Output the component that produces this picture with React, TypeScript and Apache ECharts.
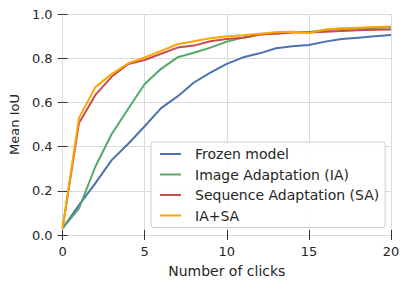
import React, { useEffect, useRef } from "react";
import * as echarts from "echarts";

const clicks = [0, 1, 2, 3, 4, 5, 6, 7, 8, 9, 10, 11, 12, 13, 14, 15, 16, 17, 18, 19, 20];
const frozen = [0.03, 0.135, 0.235, 0.34, 0.413, 0.492, 0.574, 0.627, 0.69, 0.735, 0.774, 0.804, 0.822, 0.845, 0.854, 0.86, 0.875, 0.887, 0.893, 0.899, 0.905];
const imageAdapt = [0.03, 0.12, 0.31, 0.458, 0.571, 0.683, 0.752, 0.804, 0.825, 0.848, 0.875, 0.893, 0.907, 0.916, 0.919, 0.919, 0.928, 0.932, 0.934, 0.937, 0.94];
const seqAdapt = [0.03, 0.507, 0.634, 0.717, 0.774, 0.792, 0.82, 0.848, 0.857, 0.877, 0.887, 0.893, 0.907, 0.911, 0.916, 0.916, 0.92, 0.923, 0.926, 0.929, 0.93];
const iaSa = [0.03, 0.53, 0.669, 0.729, 0.777, 0.803, 0.833, 0.863, 0.877, 0.89, 0.899, 0.904, 0.911, 0.917, 0.92, 0.914, 0.93, 0.936, 0.938, 0.941, 0.944];

const seriesNames = ["Frozen model", "Image Adaptation (IA)", "Sequence Adaptation (SA)", "IA+SA"];
const seriesColors = ["#4C72B0", "#55A868", "#C44E52", "#FFA500"];
const seriesValues = [frozen, imageAdapt, seqAdapt, iaSa];

const FONT = "DejaVu Sans";
const TEXT = "#262626";
const GRID = "#dadada";

export default function App() {
  const ref = useRef<HTMLDivElement>(null);
  useEffect(() => {
    const chart = echarts.init(ref.current!, null, { renderer: "svg" });
    const tickStyle = { show: true, length: 5, lineStyle: { color: "#333333", width: 1 } };
    const axisLine = { show: true, lineStyle: { color: GRID, width: 1 } };
    chart.setOption({
      animation: false,
      backgroundColor: "#ffffff",
      textStyle: { fontFamily: FONT },
      grid: { left: 57, right: 16, top: 14, bottom: 50, containLabel: false },
      xAxis: [
        {
          type: "value",
          min: 0,
          max: 20,
          interval: 5,
          name: "Number of clicks",
          nameLocation: "middle",
          nameGap: 29,
          nameTextStyle: { fontFamily: FONT, fontSize: 14, color: TEXT },
          axisLine,
          axisTick: tickStyle,
          axisLabel: { fontFamily: FONT, fontSize: 13, color: TEXT, margin: 10 },
          splitLine: { show: true, lineStyle: { color: GRID, width: 1 } },
        },
        {
          type: "value",
          position: "top",
          min: 0,
          max: 20,
          interval: 5,
          axisLine,
          axisTick: tickStyle,
          axisLabel: { show: false },
          splitLine: { show: false },
        },
      ],
      yAxis: [
        {
          type: "value",
          min: 0,
          max: 1,
          interval: 0.2,
          name: "Mean IoU",
          nameLocation: "middle",
          nameGap: 37,
          nameTextStyle: { fontFamily: FONT, fontSize: 13, color: TEXT },
          axisLine,
          axisTick: tickStyle,
          axisLabel: { fontFamily: FONT, fontSize: 13, color: TEXT, margin: 10, formatter: (v: number) => v.toFixed(1) },
          splitLine: { show: true, lineStyle: { color: GRID, width: 1 } },
        },
        {
          type: "value",
          position: "right",
          min: 0,
          max: 1,
          interval: 0.2,
          axisLine,
          axisTick: tickStyle,
          axisLabel: { show: false },
          splitLine: { show: false },
        },
      ],
      legend: {
        orient: "vertical",
        left: 151,
        top: 142,
        padding: [4, 6, 4, 9],
        itemGap: 4.5,
        itemWidth: 21,
        itemHeight: 2,
        icon: "rect",
        backgroundColor: "rgba(255,255,255,0.85)",
        borderColor: "#cccccc",
        borderWidth: 1,
        borderRadius: 3,
        textStyle: { fontFamily: FONT, fontSize: 14, color: TEXT, padding: [0, 0, 0, 9], lineHeight: 16 },
        data: seriesNames,
      },
      series: seriesValues.map((vals, i) => ({
        name: seriesNames[i],
        type: "line",
        data: clicks.map((c, j) => [c, vals[j]]),
        symbol: "none",
        color: seriesColors[i],
        lineStyle: { width: 2, color: seriesColors[i] },
        itemStyle: { color: seriesColors[i] },
        z: 2 + i,
      })),
    });
    return () => chart.dispose();
  }, []);
  return <div ref={ref} style={{ width: 407, height: 285, position: "absolute", left: 0, top: 0 }} />;
}
